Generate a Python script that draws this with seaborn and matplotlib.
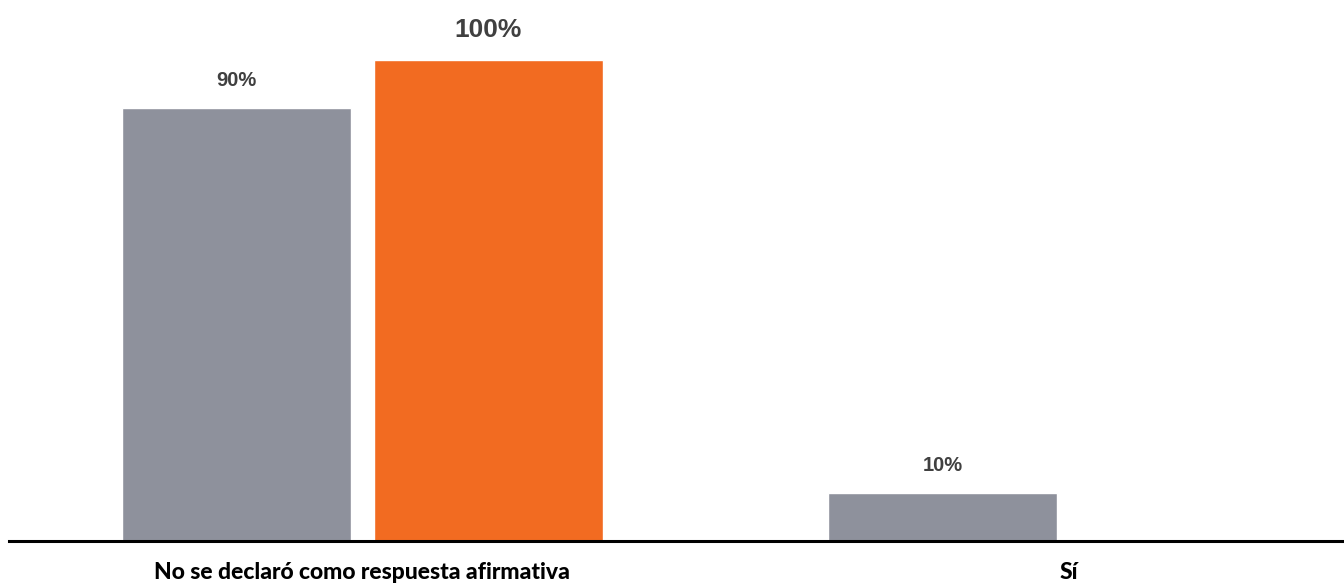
import pandas as pd
import matplotlib
matplotlib.use("Agg")
import matplotlib.pyplot as plt
import seaborn as sns

categorias = ["No se declaró como respuesta afirmativa", "Sí"]
serie_gris = [90, 10]
serie_naranja = [100, 0]
colores = ["#8E919C", "#F26B21"]

df = pd.DataFrame({
    "categoria": categorias * 2,
    "serie": ["gris"] * 2 + ["naranja"] * 2,
    "valor": serie_gris + serie_naranja,
})

sns.set_style("white")
fig = plt.figure(figsize=(13.44, 5.83), dpi=100)
ax = fig.add_axes([9 / 1344, 42 / 583, 1 - 9 / 1344, 1 - 42 / 583])

sns.barplot(data=df, x="categoria", y="valor", hue="serie", palette=colores,
            width=0.713, gap=0.091, legend=False, ax=ax, saturation=1)

ax.set_xlim(-0.5, 1.39)
ax.set_ylim(0, 112.5)

# etiquetas de valor
for cont, tam in zip(ax.containers, [14.5, 19]):
    etiquetas = [f"{v:.0f}%" if v > 0 else "" for v in cont.datavalues]
    ax.bar_label(cont, labels=etiquetas, padding=13, fontsize=tam,
                 fontweight="bold", color="#404040", family="Liberation Sans")

for lado in ["top", "right", "left"]:
    ax.spines[lado].set_visible(False)
ax.spines["bottom"].set_color("black")
ax.spines["bottom"].set_linewidth(2.2)

ax.set_yticks([])
ax.set_xlabel("")
ax.set_ylabel("")
ax.tick_params(axis="x", length=0, pad=15)
for t in ax.get_xticklabels():
    t.set_fontfamily("Lato")
    t.set_fontweight("black")
    t.set_fontsize(16.5)
    t.set_color("black")

fig.savefig("out.png", dpi=100)
